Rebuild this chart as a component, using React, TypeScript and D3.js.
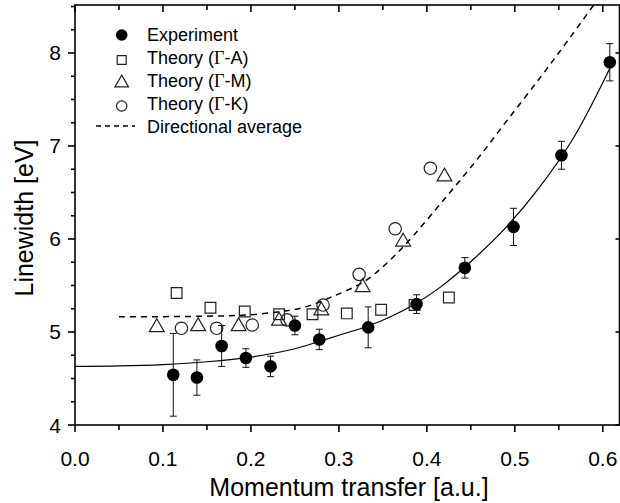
import React from 'react';
import * as d3 from 'd3';

// experiment (filled circles with error bars)
const expX = [0.1117, 0.1386, 0.1667, 0.1943, 0.2223, 0.25, 0.2777, 0.3333, 0.3883, 0.4432, 0.4985, 0.553, 0.608];
const expY = [4.54, 4.51, 4.85, 4.72, 4.63, 5.07, 4.92, 5.05, 5.3, 5.69, 6.13, 6.9, 7.9];
const expErr = [0.445, 0.19, 0.22, 0.1, 0.11, 0.1, 0.11, 0.22, 0.1, 0.11, 0.2, 0.15, 0.2];

// theory, three directions
const gaX = [0.1155, 0.154, 0.193, 0.232, 0.27, 0.309, 0.348, 0.386, 0.425];
const gaY = [5.42, 5.26, 5.22, 5.19, 5.19, 5.2, 5.24, 5.29, 5.37];
const gmX = [0.093, 0.14, 0.186, 0.232, 0.28, 0.327, 0.373, 0.42];
const gmY = [5.05, 5.06, 5.06, 5.12, 5.23, 5.48, 5.97, 6.67];
const gkX = [0.121, 0.161, 0.2015, 0.241, 0.282, 0.323, 0.364, 0.404];
const gkY = [5.04, 5.04, 5.075, 5.13, 5.29, 5.62, 6.11, 6.76];

// fit through experiment (solid) and directional average (dashed)
const fitX = [0, 0.05, 0.1, 0.15, 0.2, 0.25, 0.278, 0.3, 0.333, 0.36, 0.388, 0.415, 0.4527, 0.4905, 0.5284, 0.5663, 0.6042, 0.61];
const fitY = [4.63, 4.635, 4.65, 4.68, 4.73, 4.82, 4.9, 4.965, 5.065, 5.17, 5.31, 5.48, 5.78, 6.13, 6.56, 7.08, 7.76, 7.88];
const avgX = [0.05, 0.1, 0.15, 0.19, 0.23, 0.26, 0.29, 0.33, 0.36, 0.385, 0.42, 0.455, 0.49, 0.53, 0.56, 0.59, 0.6];
const avgY = [5.165, 5.165, 5.17, 5.18, 5.215, 5.265, 5.37, 5.55, 5.79, 6.04, 6.43, 6.83, 7.26, 7.75, 8.13, 8.52, 8.65];

const xMajor = [0, 0.1, 0.2, 0.3, 0.4, 0.5, 0.6];
const xMinor = [0.05, 0.15, 0.25, 0.35, 0.45, 0.55];
const yMajor = [4, 5, 6, 7, 8];
const yMinor = [4.25, 4.5, 4.75, 5.25, 5.5, 5.75, 6.25, 6.5, 6.75, 7.25, 7.5, 7.75, 8.25, 8.5];

const legendLabels = ['Experiment', 'A', 'M', 'K', 'Directional average'];

const W = 620;
const H = 503;
const font = "Arial, 'Liberation Sans', sans-serif";

const x = d3.scaleLinear().domain([0, 0.619]).range([75, 619.5]);
const y = d3.scaleLinear().domain([4, 8.516]).range([425, 5]);

const sq = d3.symbol().type(d3.symbolSquare);
const tri = d3.symbol().type(d3.symbolTriangle);

const App = () => {
    const line = d3.line<number>()
        .curve(d3.curveCatmullRom.alpha(0.5));

    const fitPath = line(fitX.map((v, i) => [x(v), y(fitY[i])]) as any);
    const avgPath = line(avgX.map((v, i) => [x(v), y(avgY[i])]) as any);

    const [x0, x1] = x.range();
    const [y0, y1] = y.range();

    return (
        <svg width={W} height={H} style={{ position: 'absolute', left: 0, top: 0, background: '#fff' }}
            fontFamily={font}>
            <defs>
                <clipPath id="plot">
                    <rect x={x0} y={y1} width={x1 - x0} height={y0 - y1} />
                </clipPath>
            </defs>

            {/* curves */}
            <g clipPath="url(#plot)" fill="none" stroke="#000">
                <path d={fitPath || ''} strokeWidth={1.2} />
                <path d={avgPath || ''} strokeWidth={1.5} strokeDasharray="6,5" />
            </g>

            {/* theory markers */}
            <g fill="none" stroke="#222" strokeWidth={1.2}>
                {gaX.map((v, i) => (
                    <path key={'a' + i} d={sq.size(115)() || ''} transform={`translate(${x(v)},${y(gaY[i])})`} />
                ))}
                {gmX.map((v, i) => (
                    <path key={'m' + i} d={tri.size(95)() || ''} transform={`translate(${x(v)},${y(gmY[i])})`} />
                ))}
                {gkX.map((v, i) => (
                    <circle key={'k' + i} cx={x(v)} cy={y(gkY[i])} r={6.2} />
                ))}
            </g>

            {/* experiment */}
            <g>
                {expX.map((v, i) => {
                    const cx = x(v);
                    const top = y(expY[i] + expErr[i]);
                    const bot = y(expY[i] - expErr[i]);
                    return (
                        <g key={'e' + i} stroke="#111" strokeWidth={1}>
                            <line x1={cx} x2={cx} y1={top} y2={bot} />
                            <line x1={cx - 3.5} x2={cx + 3.5} y1={top} y2={top} />
                            <line x1={cx - 3.5} x2={cx + 3.5} y1={bot} y2={bot} />
                            <circle cx={cx} cy={y(expY[i])} r={6.3} fill="#000" stroke="none" />
                        </g>
                    );
                })}
            </g>

            {/* frame */}
            <g stroke="#000" strokeWidth={1.6} fill="none">
                <rect x={x0} y={y1} width={x1 - x0} height={y0 - y1} />
                {xMajor.map(t => (
                    <g key={'xM' + t}>
                        <line x1={x(t)} x2={x(t)} y1={y0} y2={y0 + 7} />
                        <line x1={x(t)} x2={x(t)} y1={y1} y2={y1 + 7} />
                    </g>
                ))}
                {xMinor.map(t => (
                    <g key={'xm' + t}>
                        <line x1={x(t)} x2={x(t)} y1={y0} y2={y0 + 5} />
                        <line x1={x(t)} x2={x(t)} y1={y1} y2={y1 + 5} />
                    </g>
                ))}
                {yMajor.map(t => (
                    <g key={'yM' + t}>
                        <line x1={x0} x2={x0 - 7} y1={y(t)} y2={y(t)} />
                        <line x1={x1} x2={x1 - 4} y1={y(t)} y2={y(t)} />
                    </g>
                ))}
                {yMinor.map(t => (
                    <line key={'ym' + t} x1={x0} x2={x0 - 4} y1={y(t)} y2={y(t)} />
                ))}
            </g>

            {/* tick labels */}
            <g fontSize={21} fill="#000">
                {xMajor.map(t => (
                    <text key={'xl' + t} x={x(t)} y={466} textAnchor="middle">{d3.format('.1f')(t)}</text>
                ))}
                {yMajor.map(t => (
                    <text key={'yl' + t} x={61} y={y(t) + 7.5} textAnchor="end">{t}</text>
                ))}
            </g>

            {/* axis titles */}
            <text x={349} y={496} textAnchor="middle" fontSize={25}>Momentum transfer [a.u.]</text>
            <text transform="translate(33,218) rotate(-90)" textAnchor="middle" fontSize={25}>Linewidth [eV]</text>

            {/* legend */}
            <g fontSize={18}>
                <circle cx={121.7} cy={35} r={5.8} fill="#000" />
                <path d={sq.size(80)() || ''} transform="translate(121.7,60)" fill="none" stroke="#222" strokeWidth={1.2} />
                <path d={tri.size(80)() || ''} transform="translate(121.7,83)" fill="none" stroke="#222" strokeWidth={1.2} />
                <circle cx={121.7} cy={106} r={5.2} fill="none" stroke="#222" strokeWidth={1.2} />
                <line x1={96} x2={135} y1={126} y2={126} stroke="#000" strokeWidth={1.5} strokeDasharray="5,4" />
                {legendLabels.map((l, i) => (
                    <text key={'lg' + i} x={147} y={35 + i * 23 + 6}>
                        {i === 0 || i === 4 ? l : (
                            <>Theory (<tspan fontFamily="'Liberation Serif', 'Times New Roman', serif">Γ</tspan>-{l})</>
                        )}
                    </text>
                ))}
            </g>
        </svg>
    );
};

export default App;
